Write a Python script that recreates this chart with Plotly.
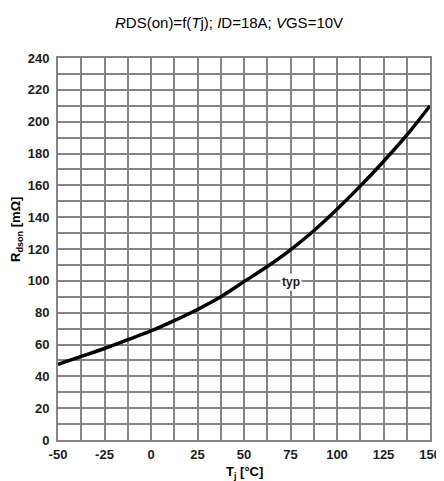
import plotly.graph_objects as go

# Data
tj = [-50, -37.5, -25, -12.5, 0, 12.5, 25, 37.5, 50, 62.5, 75, 87.5, 100, 112.5, 125, 137.5, 150]
rdson = [47.5, 52.5, 57.5, 63, 68.5, 75, 82, 90, 99.5, 109, 119.5, 131.5, 145, 159.5, 175, 191.5, 210]
x_ticks = [-50, -25, 0, 25, 50, 75, 100, 125, 150]
y_ticks = [0, 20, 40, 60, 80, 100, 120, 140, 160, 180, 200, 220, 240]
label_text = "typ"
label_pos = (75, 99)

GRID = "#858585"
TXT = "#1c1c1c"
FONT = "Liberation Sans, Arial, sans-serif"

fig = go.Figure()
fig.add_trace(go.Scatter(x=tj, y=rdson, mode="lines",
                         line=dict(color="black", width=3.5, shape="spline", smoothing=1.0),
                         showlegend=False, hoverinfo="skip"))

fig.add_annotation(x=label_pos[0], y=label_pos[1], text="<b>%s</b>" % label_text,
                   showarrow=False, bgcolor="white", borderpad=1,
                   font=dict(family=FONT, size=12, color=TXT))

# y-axis title
fig.add_annotation(xref="paper", yref="paper", x=-0.11, y=0.55,
                   text="<b>R<sub>dson</sub> [mΩ]</b>", textangle=-90, showarrow=False,
                   xanchor="center", yanchor="middle",
                   font=dict(family=FONT, size=13, color="black"))
# x-axis title
fig.add_annotation(xref="paper", yref="paper", x=0.5, y=-0.086,
                   text="<b>T<sub>j</sub> [°C]</b>", showarrow=False,
                   xanchor="center", yanchor="middle",
                   font=dict(family=FONT, size=13, color="black"))

fig.update_layout(
    width=436, height=473,
    margin=dict(l=50, r=14, t=50, b=41, autoexpand=False),
    paper_bgcolor="white", plot_bgcolor="white",
    title=dict(text="<i>R</i>DS(on)=f(<i>T</i>j); <i>I</i>D=18A; <i>V</i>GS=10V",
               x=0.507, xanchor="center", y=1 - 15 / 473, yanchor="middle",
               font=dict(family=FONT, size=15, color="black")),
    xaxis=dict(range=[-50, 150], tickvals=x_ticks, ticktext=["<b>%s</b>" % v for v in x_ticks],
               showgrid=True, gridcolor=GRID, gridwidth=2,
               minor=dict(dtick=12.5, tick0=-50, showgrid=True, gridcolor=GRID, gridwidth=2),
               showline=True, linecolor=GRID, linewidth=2, mirror=True,
               zeroline=False, ticks="", ticklabelstandoff=1, automargin=False,
               tickfont=dict(family=FONT, size=13, color=TXT)),
    yaxis=dict(range=[0, 240], tickvals=y_ticks, ticktext=["<b>%s</b>" % v for v in y_ticks],
               showgrid=True, gridcolor=GRID, gridwidth=2,
               minor=dict(dtick=10, tick0=0, showgrid=True, gridcolor=GRID, gridwidth=2),
               showline=True, linecolor=GRID, linewidth=2, mirror=True,
               zeroline=False, ticks="", ticklabelstandoff=4, automargin=False,
               tickfont=dict(family=FONT, size=13, color=TXT)),
)

fig.write_html("out.html")
